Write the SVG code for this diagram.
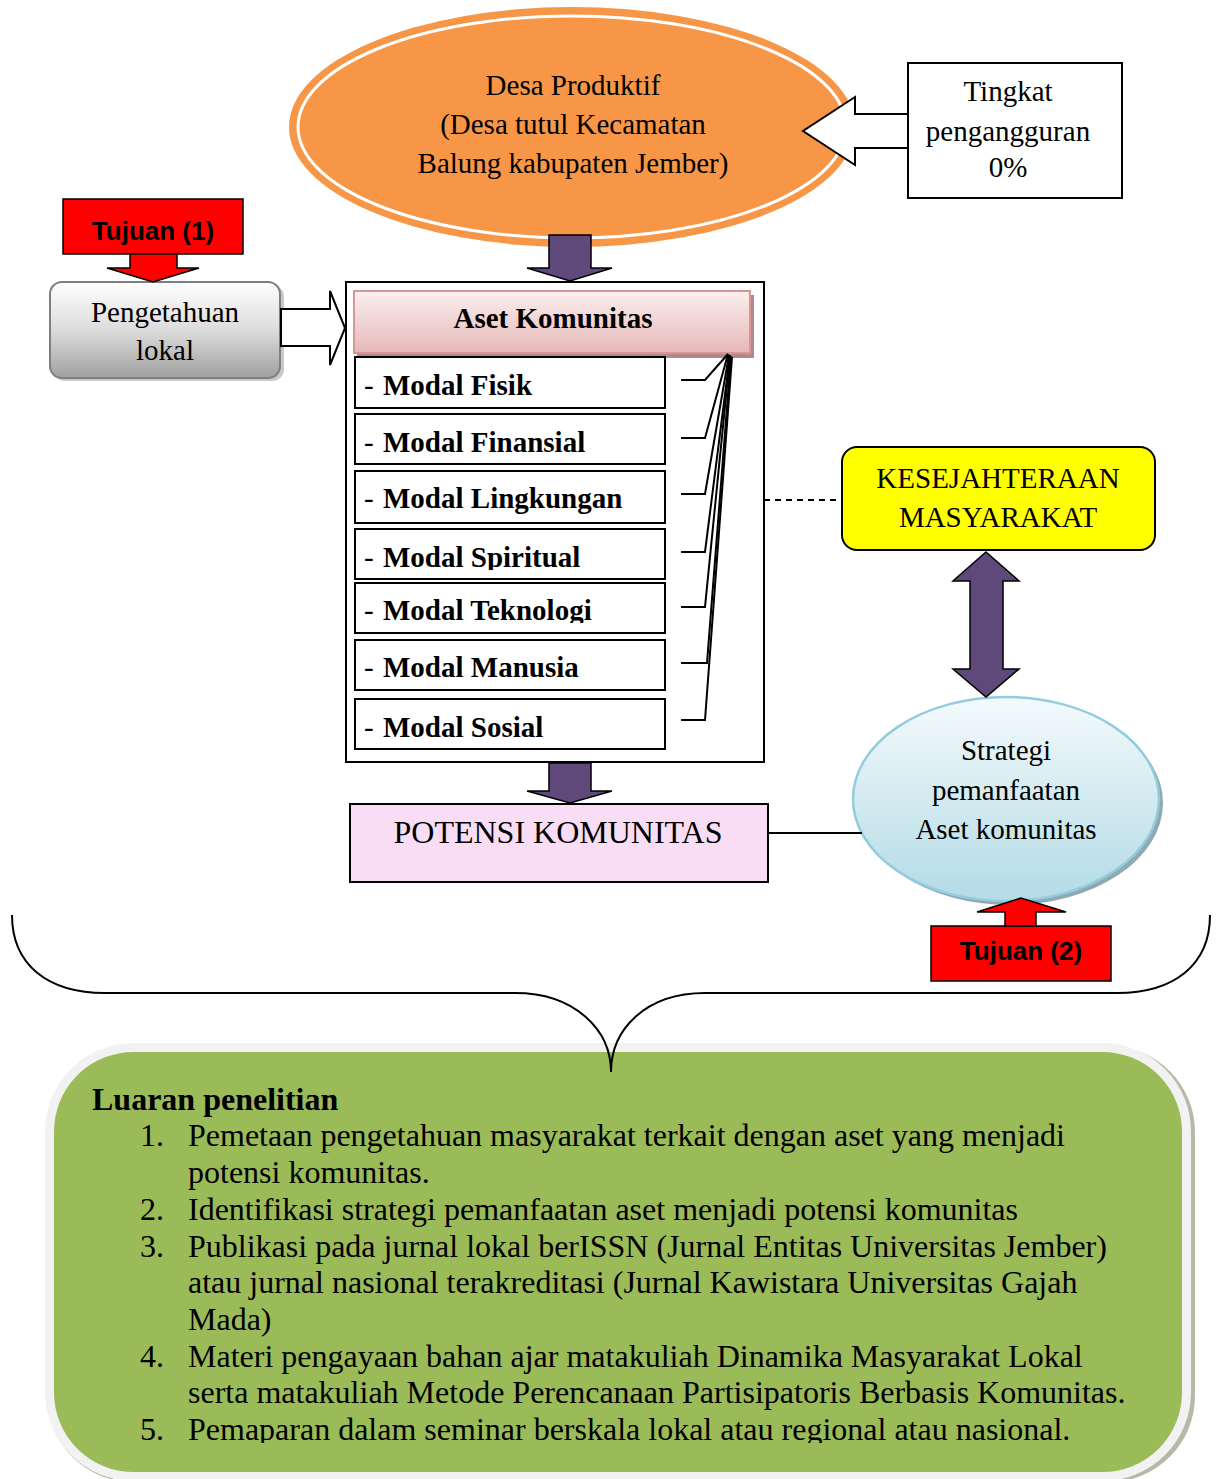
<svg xmlns="http://www.w3.org/2000/svg" width="1220" height="1479" viewBox="0 0 1220 1479">
<defs>
<style>
.t{font-family:"Liberation Serif","Times New Roman",serif;font-size:29px;fill:#000}
.tc{text-anchor:middle}
.b{font-weight:bold}
.tj{font-family:"Liberation Sans",Arial,sans-serif;font-weight:bold;font-size:26px;text-anchor:middle;fill:#000}
.li{font-family:"Liberation Serif","Times New Roman",serif;font-size:32px;fill:#000}
.box{fill:#fff;stroke:#000;stroke-width:2}
.purple{fill:#5F497A;stroke:#000;stroke-width:1.5;stroke-linejoin:miter}
.red{fill:#FF0000;stroke:#000;stroke-width:1.5}
.wa{fill:#fff;stroke:#000;stroke-width:2}
.ln{fill:none;stroke:#000;stroke-width:2}
</style>
<linearGradient id="gGrey" x1="0" y1="0" x2="0" y2="1">
<stop offset="0" stop-color="#FFFFFF"/><stop offset="0.5" stop-color="#DCDCDC"/><stop offset="1" stop-color="#A0A0A0"/>
</linearGradient>
<linearGradient id="gPink" x1="0" y1="0" x2="0" y2="1">
<stop offset="0" stop-color="#FBEFEF"/><stop offset="1" stop-color="#E5B8B7"/>
</linearGradient>
<linearGradient id="gBlue" x1="0" y1="0" x2="0" y2="1">
<stop offset="0" stop-color="#F4FAFC"/><stop offset="1" stop-color="#B3DBE6"/>
</linearGradient>
<clipPath id="cSp"><rect x="355" y="529" width="311" height="41"/></clipPath>
<clipPath id="cTk"><rect x="355" y="583" width="311" height="40"/></clipPath>
<clipPath id="cList"><rect x="53" y="1052" width="1129" height="391"/></clipPath>
</defs>

<!-- Green output box -->
<g id="luaran">
<rect x="47" y="1046" width="1148" height="436" rx="86" fill="#B4BAA6"/>
<rect x="49.5" y="1047.5" width="1137" height="429" rx="84" fill="#9BBB59" stroke="#F2F2F2" stroke-width="9"/>
<g clip-path="url(#cList)">
<text class="li b" x="92" y="1110">Luaran penelitian</text>
<text class="li" x="140" y="1146">1.</text>
<text class="li" x="188" y="1146">Pemetaan pengetahuan masyarakat terkait dengan aset yang menjadi</text>
<text class="li" x="188" y="1183">potensi komunitas.</text>
<text class="li" x="140" y="1220">2.</text>
<text class="li" x="188" y="1220">Identifikasi strategi pemanfaatan aset menjadi potensi komunitas</text>
<text class="li" x="140" y="1257">3.</text>
<text class="li" x="188" y="1257">Publikasi pada jurnal lokal berISSN (Jurnal Entitas Universitas Jember)</text>
<text class="li" x="188" y="1293">atau jurnal nasional terakreditasi (Jurnal Kawistara Universitas Gajah</text>
<text class="li" x="188" y="1330">Mada)</text>
<text class="li" x="140" y="1367">4.</text>
<text class="li" x="188" y="1367">Materi pengayaan bahan ajar matakuliah Dinamika Masyarakat Lokal</text>
<text class="li" x="188" y="1403">serta matakuliah Metode Perencanaan Partisipatoris Berbasis Komunitas.</text>
<text class="li" x="140" y="1440">5.</text>
<text class="li" x="188" y="1440">Pemaparan dalam seminar berskala lokal atau regional atau nasional.</text>
</g>
</g>

<!-- Desa Produktif -->
<g id="desa">
<ellipse cx="572" cy="127" rx="283" ry="120" fill="#F79646"/>
<ellipse cx="572" cy="127" rx="274" ry="111" fill="none" stroke="#fff" stroke-width="3"/>
<text class="t tc" x="573" y="95">Desa Produktif</text>
<text class="t tc" x="573" y="134">(Desa tutul Kecamatan</text>
<text class="t tc" x="573" y="173">Balung kabupaten Jember)</text>
</g>

<!-- Tingkat pengangguran -->
<g id="tingkat">
<rect class="box" x="908" y="63" width="214" height="135"/>
<text class="t tc" x="1008" y="101">Tingkat</text>
<text class="t tc" x="1008" y="141">pengangguran</text>
<text class="t tc" x="1008" y="177">0%</text>
</g>

<!-- Tujuan 1 -->
<g id="tujuan1">
<rect class="red" x="63" y="199" width="180" height="55"/>
<text class="tj" x="153" y="240">Tujuan (1)</text>
</g>

<!-- Pengetahuan lokal -->
<g id="pengetahuan">
<rect x="53" y="285" width="231" height="96" rx="12" fill="#C8C8C8"/>
<rect x="50" y="282" width="230" height="96" rx="12" fill="url(#gGrey)" stroke="#7F7F7F" stroke-width="2"/>
<text class="t tc" x="165" y="322">Pengetahuan</text>
<text class="t tc" x="165" y="360">lokal</text>
</g>

<!-- Aset container -->
<g id="aset">
<rect class="box" x="346" y="282" width="418" height="480"/>
<rect x="357" y="295" width="397" height="63" fill="#B08A8A"/>
<rect x="354" y="291" width="396" height="62" fill="url(#gPink)" stroke="#D99694" stroke-width="2"/>
<text class="t tc b" x="553" y="328">Aset Komunitas</text>
</g>

<g id="modal-fisik">
<rect class="box" x="355" y="357" width="310" height="51"/>
<text class="t" x="364" y="395">-</text><text class="t b" x="383" y="395">Modal Fisik</text>
</g>
<g id="modal-finansial">
<rect class="box" x="355" y="414" width="310" height="50"/>
<text class="t" x="364" y="452">-</text><text class="t b" x="383" y="452">Modal Finansial</text>
</g>
<g id="modal-lingkungan">
<rect class="box" x="355" y="471" width="310" height="52"/>
<text class="t" x="364" y="508">-</text><text class="t b" x="383" y="508">Modal Lingkungan</text>
</g>
<g id="modal-spiritual">
<rect class="box" x="355" y="529" width="310" height="50"/>
<g clip-path="url(#cSp)"><text class="t" x="364" y="567">-</text><text class="t b" x="383" y="567">Modal Spiritual</text></g>
</g>
<g id="modal-teknologi">
<rect class="box" x="355" y="583" width="310" height="50"/>
<g clip-path="url(#cTk)"><text class="t" x="364" y="620">-</text><text class="t b" x="383" y="620">Modal Teknologi</text></g>
</g>
<g id="modal-manusia">
<rect class="box" x="355" y="640" width="310" height="50"/>
<text class="t" x="364" y="677">-</text><text class="t b" x="383" y="677">Modal Manusia</text>
</g>
<g id="modal-sosial">
<rect class="box" x="355" y="699" width="310" height="50"/>
<text class="t" x="364" y="737">-</text><text class="t b" x="383" y="737">Modal Sosial</text>
</g>

<!-- Potensi komunitas -->
<g id="potensi">
<rect x="350" y="804" width="418" height="78" fill="#F9DDF5" stroke="#000" stroke-width="2"/>
<text class="t tc" x="558" y="843" style="font-size:32px">POTENSI KOMUNITAS</text>
</g>

<!-- Kesejahteraan -->
<g id="kesejahteraan">
<rect x="842" y="447" width="313" height="103" rx="15" fill="#FFFF00" stroke="#000" stroke-width="2"/>
<text class="t tc" x="998" y="488">KESEJAHTERAAN</text>
<text class="t tc" x="998" y="527">MASYARAKAT</text>
</g>

<!-- Strategi -->
<g id="strategi">
<ellipse cx="1010" cy="803" rx="153" ry="102" fill="#8FA9B2"/>
<ellipse cx="1006" cy="799" rx="153" ry="102" fill="url(#gBlue)" stroke="#93CDDD" stroke-width="2.5"/>
<text class="t tc" x="1006" y="760">Strategi</text>
<text class="t tc" x="1006" y="800">pemanfaatan</text>
<text class="t tc" x="1006" y="839">Aset komunitas</text>
</g>

<!-- Tujuan 2 -->
<g id="tujuan2">
<rect class="red" x="931" y="926" width="180" height="55"/>
<text class="tj" x="1021" y="960">Tujuan (2)</text>
</g>

<!-- Connectors -->
<g id="connectors">
<polygon class="wa" points="908,114 855,114 855,97 803,131 855,165 855,148 908,148"/>
<polygon class="wa" points="281,309 330,309 330,291 345,328 330,365 330,346 281,346"/>
<polygon class="purple" points="549,235 591,235 591,268 612,268 570,281 527,268 549,268"/>
<polygon class="purple" points="549,763 591,763 591,791 612,791 570,803 527,791 549,791"/>
<polygon class="red" points="130,254 177,254 177,268 199,268 153,282 107,268 130,268"/>
<polygon class="red" points="1005,926 1036,926 1036,912 1066,912 1021,898 977,912 1005,912"/>
<polygon class="purple" points="986,552 1019,581 1003,581 1003,669 1019,669 986,697 953,669 970,669 970,581 953,581"/>
<line x1="764" y1="500" x2="842" y2="500" stroke="#000" stroke-width="2" stroke-dasharray="6,5"/>
<line x1="768" y1="833" x2="862" y2="833" stroke="#000" stroke-width="2"/>
<path class="ln" d="M681,380 L705,380 L728,354"/>
<path class="ln" d="M681,438 L705,438 L728,354"/>
<path class="ln" d="M681,494 L705,494 L729,355"/>
<path class="ln" d="M681,552 L705,552 L730,355"/>
<path class="ln" d="M681,607 L705,607 L730,356"/>
<path class="ln" d="M681,663 L707,663 L731,356"/>
<path class="ln" d="M681,720 L705,720 L732,357"/>
<path class="ln" d="M12,915 C12,965 48,993 105,993 L515,993 C575,993 611,1030 611,1072"/>
<path class="ln" d="M1210,915 C1210,965 1174,993 1117,993 L705,993 C645,993 611,1030 611,1072"/>
</g>
</svg>
